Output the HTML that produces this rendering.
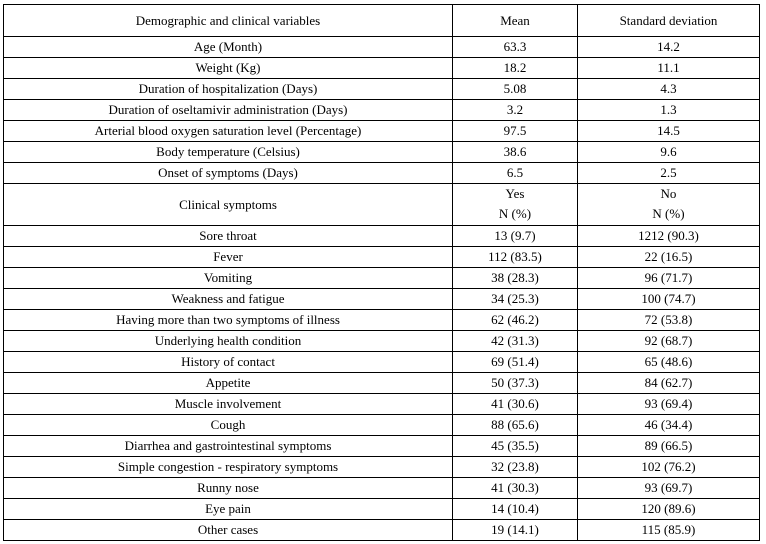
<!DOCTYPE html>
<html><head><style>
body{margin:0;background:#fff;width:766px;height:544px;position:relative;font-family:"Liberation Serif",serif;font-size:13px;color:#000}
.h{position:absolute;left:3px;width:757px;height:1px;background:#000}
.v{position:absolute;width:1px;background:#000;top:4px;height:537px}
.c{position:absolute;text-align:center;line-height:21px;white-space:nowrap}
</style></head><body>
<div id="t"></div>
<script>
var rows=[
["Age (Month)","63.3","14.2"],["Weight (Kg)","18.2","11.1"],["Duration of hospitalization (Days)","5.08","4.3"],
["Duration of oseltamivir administration (Days)","3.2","1.3"],["Arterial blood oxygen saturation level (Percentage)","97.5","14.5"],
["Body temperature (Celsius)","38.6","9.6"],["Onset of symptoms (Days)","6.5","2.5"]];
var sym=[["Sore throat","13 (9.7)","1212 (90.3)"],["Fever","112 (83.5)","22 (16.5)"],["Vomiting","38 (28.3)","96 (71.7)"],
["Weakness and fatigue","34 (25.3)","100 (74.7)"],["Having more than two symptoms of illness","62 (46.2)","72 (53.8)"],
["Underlying health condition","42 (31.3)","92 (68.7)"],["History of contact","69 (51.4)","65 (48.6)"],["Appetite","50 (37.3)","84 (62.7)"],
["Muscle involvement","41 (30.6)","93 (69.4)"],["Cough","88 (65.6)","46 (34.4)"],["Diarrhea and gastrointestinal symptoms","45 (35.5)","89 (66.5)"],
["Simple congestion - respiratory symptoms","32 (23.8)","102 (76.2)"],["Runny nose","41 (30.3)","93 (69.7)"],["Eye pain","14 (10.4)","120 (89.6)"],
["Other cases","19 (14.1)","115 (85.9)"]];
var cols=[[4,448],[453,124],[578,181]];
var h='';
function cell(y,hgt,r){for(var i=0;i<3;i++)h+='<div class="c" style="left:'+cols[i][0]+'px;width:'+cols[i][1]+'px;top:'+y+'px;height:'+hgt+'px;line-height:'+hgt+'px">'+r[i]+'</div>';}
h+='<div class="h" style="top:4px"></div>';
cell(5,31,["Demographic and clinical variables","Mean","Standard deviation"]);
h+='<div class="h" style="top:36px"></div>';
var y=36;
rows.forEach(function(r){cell(y+1,20,r);y+=21;h+='<div class="h" style="top:'+y+'px"></div>';});
// clinical row
h+='<div class="c" style="left:4px;width:448px;top:'+(y+1)+'px;line-height:41px">Clinical symptoms</div>';
h+='<div class="c" style="left:453px;width:124px;top:'+(y+1)+'px;line-height:20px">Yes<br>N (%)</div>';
h+='<div class="c" style="left:578px;width:181px;top:'+(y+1)+'px;line-height:20px">No<br>N (%)</div>';
y+=42;h+='<div class="h" style="top:'+y+'px"></div>';
sym.forEach(function(r){cell(y+1,20,r);y+=21;h+='<div class="h" style="top:'+y+'px"></div>';});
h+='<div class="v" style="left:3px"></div><div class="v" style="left:452px"></div><div class="v" style="left:577px"></div><div class="v" style="left:759px"></div>';
document.getElementById('t').innerHTML=h;
</script>
</body></html>
